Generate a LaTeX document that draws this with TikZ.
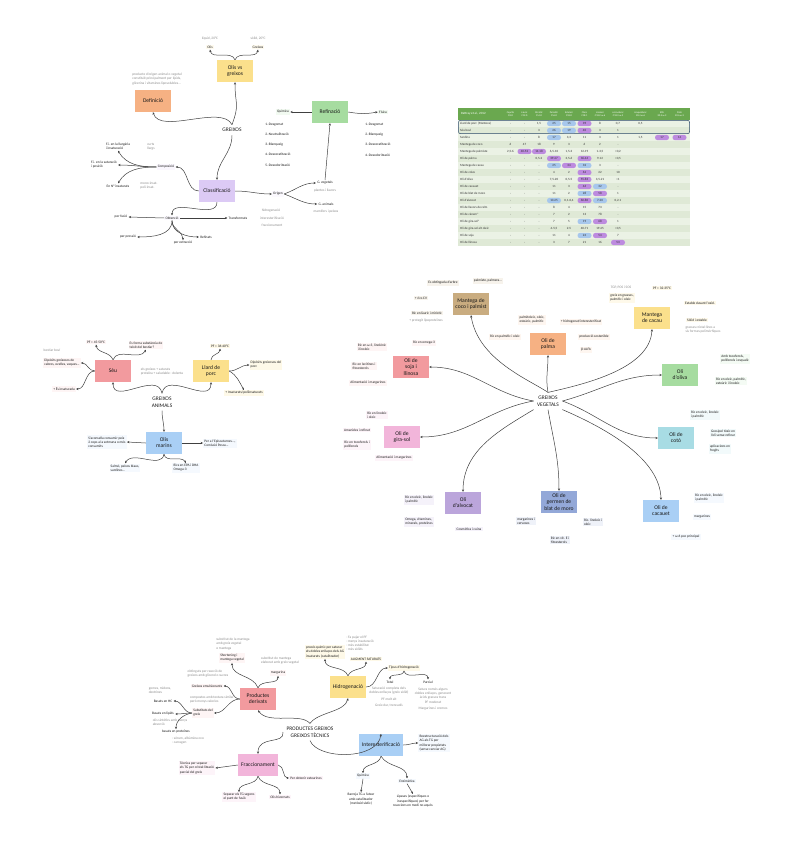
\documentclass[tikz,border=0pt]{standalone}
\usepackage{fontspec}
\setmainfont{Carlito}
\usetikzlibrary{arrows.meta}
\definecolor{yel}{HTML}{FBE08C}
\definecolor{org}{HTML}{F6B183}
\definecolor{grn}{HTML}{A6DCA0}
\definecolor{pur}{HTML}{DCCAF5}
\definecolor{red}{HTML}{F29A9E}
\definecolor{blu}{HTML}{A9CFF5}
\definecolor{tan}{HTML}{C9AC80}
\definecolor{teal}{HTML}{A8DCE4}
\definecolor{slate}{HTML}{93A8D8}
\definecolor{viol}{HTML}{BBA5DB}
\definecolor{pnk}{HTML}{F2B5DA}
\definecolor{hdr}{HTML}{6AA84F}
\definecolor{rowa}{HTML}{DFE9D6}
\definecolor{rowb}{HTML}{EBF2E5}
\definecolor{pblue}{HTML}{A7C7EC}
\definecolor{ppur}{HTML}{BD8BDF}
\definecolor{frame}{HTML}{2E4A6B}
\tikzset{
 bx/.style={rectangle, inner sep=1pt, align=center, font=\fontsize{5.6}{6.1}\selectfont, text=black!90, minimum width=36, minimum height=22},
 nt/.style={rectangle, inner sep=1.2pt, align=left, font=\fontsize{3.5}{4.1}\selectfont, text=black!90},
 gt/.style={nt, text=black!45},
 ttl/.style={align=center, font=\fontsize{5.4}{6.6}\selectfont, text=black!90},
 ar/.style={-{Stealth[length=2.4pt,width=2.2pt]}, draw=black!75, line width=0.5pt},
 tname/.style={anchor=west, inner sep=0pt, font=\fontsize{3.2}{3.6}\selectfont, text=black!80},
 tcell/.style={inner sep=0pt, font=\fontsize{3.2}{3.6}\selectfont, text=black!80},
 thead/.style={inner sep=0pt, align=center, font=\fontsize{2.5}{2.9}\selectfont, text=white},
 pl/.style={rectangle, rounded corners=2.6pt, minimum width=14, minimum height=5.4, inner sep=0pt},
}
\def\cx{{510.5,524.5,539,554,569,584.5,600,618,640.5,662,679.5}}
\newcommand\trow[3]{%
 \node[tname] at (460,{120+7*(#1-0.5)}) {#2};
 \foreach \vv [count=\i] in {#3} {\pgfmathsetmacro\xx{\cx[\i-1]}\node[tcell] at (\xx,{120+7*(#1-0.5)}) {\vv};}}
\newcommand\pill[3]{\pgfmathsetmacro\xx{\cx[#1-1]}\node[pl,fill=#3] at (\xx,{120+7*(#2-0.5)}) {};}
\begin{document}
\begin{tikzpicture}[x=1pt,y=-1pt]
\fill[white] (0,0) rectangle (798,848);
\useasboundingbox (0,0) rectangle (798,848);

%================ SECTION 1 : GREIXOS =================
\node[bx,fill=yel] (ovg) at (235,71) {Olis vs\\greixos};
\node[nt,fill=yel!15] (olis) at (210,47) {Olis};
\node[gt] at (210,39) {líquid, 20°C};
\node[nt,fill=yel!15] (grx) at (258,47) {Greixos};
\node[gt] at (258,39) {sòlid, 20°C};
\draw[ar] (ovg.north) to[out=110,in=-80] (olis.south);
\draw[ar] (ovg.north) to[out=70,in=-100] (grx.south);
\node[bx,fill=org] (def) at (153,101) {Definició};
\node[gt] at (157,79) {producte d'origen animal o vegetal\\constituït principalment per lípids,\\glicerina i vitamines liposolubles...};
\node[ttl] (greixos) at (232,130) {GREIXOS};
\draw[ar] (greixos.north) to[out=70,in=-90,looseness=1.4] (ovg.south);
\draw[ar] (greixos.north) .. controls (222,104) and (160,135) .. (def.south);
\node[bx,fill=grn] (ref) at (330,112) {Refinació};
\node[nt,fill=grn!15] (qui) at (283,112) {Química};
\node[nt,fill=grn!15] (fis) at (383,112) {Física};
\draw[ar] (ref.west) -- (qui.east);
\draw[ar] (ref.east) to[out=-10,in=190] (fis.west);
\foreach \t [count=\k] in {1.-Desgomat,2.-Neutralització,3.-Blanqueig,4.-Desceratització,5.-Desodorització}
  \node[nt,anchor=west] at (264,{114+10.2*\k}) {\t};
\foreach \t [count=\k] in {1.-Desgomat,2.-Blanqueig,3.-Desceratització,4.-Desodorització}
  \node[nt,anchor=west] at (364,{114+10.2*\k}) {\t};
\node[bx,fill=pur] (cls) at (217,191) {Classificació};
\draw[ar] (greixos.south) to[out=-90,in=90] (cls.north);
\node[nt,fill=pur!15] (comp) at (166,167) {Composició};
\draw[ar] (cls.west) to[out=180,in=0] (comp.east);
\node[nt] (c1) at (118,146) {F.i. en la llargària\\i insaturació};
\node[nt] (c2) at (104,165) {F.i. en la saturació\\i posició};
\node[nt] (c3) at (118,186) {En N° insaturats};
\node[gt] at (151,147) {curts\\llargs};
\node[gt] at (149,186) {mono-insat.\\poli-insat.};
\draw[ar] (comp.west) to[out=180,in=-60] (c1.south);
\draw[ar] (comp.west) to[out=180,in=0] (c2.east);
\draw[ar] (comp.west) to[out=180,in=60] (c3.north);
\node[nt,fill=pur!12] (orig) at (278,194) {Origen};
\draw[ar] (cls.east) to[out=0,in=180] (orig.west);
\node[nt] (gveg) at (325,183) {G. vegetals};
\node[gt] at (325,191) {plantes i llavors};
\node[nt] (gani) at (326,204) {G. animals};
\node[gt] at (326,212) {mamífers i peixos};
\draw[ar] (orig.east) to[out=20,in=180] (gveg.west);
\draw[ar] (orig.east) to[out=-20,in=180] (gani.west);
\draw[ar] (gveg.north) -- (ref.south);
\node[nt,fill=pur!12] (obt) at (172,218) {Obtenció};
\draw[ar] (cls.south) to[out=-90,in=90] (obt.north);
\node[nt] (o1) at (121,217) {per fusió};
\node[nt] (o2) at (128,237) {per pressió};
\node[nt] (o3) at (183,243) {per extracció};
\node[nt] (o4) at (206,237) {Refinats};
\node[nt] (o5) at (238,218) {Transformats};
\node[gt] at (271,211) {hidrogenació};
\node[gt] at (272,218) {interesterificació};
\node[gt] at (272,225) {fraccionament};
\draw[ar] (obt.west) -- (o1.east);
\draw[ar] (obt.south) to[out=-90,in=0] (o2.east);
\draw[ar] (obt.south) to[out=-90,in=90] (o3.north);
\draw[ar] (obt.south) to[out=-90,in=180] (o4.west);
\draw[ar] (obt.east) -- (o5.west);

%================ SECTION 2 : TABLE =================
\fill[hdr] (458,108) rectangle (690,120);
\node[anchor=west,inner sep=0pt,font=\fontsize{3.2}{3.6}\selectfont,text=white] at (461,114) {Rattray et al., 2012};
\foreach \h [count=\i] in {{Caprílic\\C8:0},{Làuric\\C12:0},{Mirístic\\C14:0},{Palmític\\C16:0},{Esteàric\\C18:0},{Oleic\\C18:1},{Linoleic\\C18:2 ω-6},{α-Linolènic\\C18:3 ω-3},{Araquidònic\\20:4 ω-6},{EPA\\20:5 ω-3},{DHA\\22:6 ω-3}}
  {\pgfmathsetmacro\xx{\cx[\i-1]}\node[thead] at (\xx,114) {\h};}
\foreach \r in {1,...,18} {
  \pgfmathsetmacro\yy{120+7*(\r-1)}
  \pgfmathparse{mod(\r,2)==0 ? 1 : 0}
  \ifnum\pgfmathresult=1 \fill[rowa] (458,\yy) rectangle (690,\yy+7); \else \fill[rowb] (458,\yy) rectangle (690,\yy+7); \fi
}
\draw[frame,line width=0.5pt,rounded corners=2pt] (458.5,120.3) rectangle (689.5,133.7);
% pills
\pill{4}{1}{pblue}\pill{5}{1}{pblue}\pill{6}{1}{ppur}
\pill{4}{2}{pblue}\pill{5}{2}{pblue}\pill{6}{2}{ppur}
\pill{4}{3}{pblue}\pill{10}{3}{ppur}\pill{11}{3}{ppur}
\pill{2}{5}{ppur}\pill{3}{5}{ppur}
\pill{4}{6}{ppur}\pill{6}{6}{ppur}
\pill{4}{7}{pblue}\pill{5}{7}{ppur}\pill{6}{7}{pblue}
\pill{6}{8}{ppur}
\pill{6}{9}{ppur}
\pill{6}{10}{ppur}\pill{7}{10}{pblue}
\pill{6}{11}{pblue}\pill{7}{11}{ppur}
\pill{4}{12}{pblue}\pill{6}{12}{ppur}\pill{7}{12}{pblue}
\pill{6}{15}{pblue}\pill{7}{15}{ppur}
\pill{6}{17}{pblue}\pill{7}{17}{ppur}
\pill{8}{18}{ppur}
\trow{1}{Llard de porc (Manteca)}{-,-,{1,5},25,15,39,8,{0,7},{0,5},{},{}}
\trow{2}{Sèu boví}{-,-,3,26,19,40,3,1,{},{},{}}
\trow{3}{Sardina}{-,-,8,17,{3,3},11,3,1,{1,5},17,14}
\trow{4}{Mantega de coco}{6,47,18,9,3,6,2,-,{},{},{}}
\trow{5}{Mantega de palmiste}{{2,5-6},40-52,14-18,{6,5-10},{1,5-3},12-19,{1-3,5},{<0,2},{},{},{}}
\trow{6}{Oli de palma}{-,-,{0,5-2},39-47,{3,5-6},36-44,9-12,{<0,5},{},{},{}}
\trow{7}{Mantega de cacau}{-,-,-,25,34,32,3,-,{},{},{}}
\trow{8}{Oli de colza}{-,-,-,4,2,62,22,10,{},{},{}}
\trow{9}{Oli d'oliva}{-,-,-,{7,5-20},{0,5-5},55-83,{3,5-21},<1,{},{},{}}
\trow{10}{Oli de cacauet}{-,-,-,11,3,46,32,-,{},{},{}}
\trow{11}{Oli de blat de moro}{-,-,-,11,2,28,58,1,{},{},{}}
\trow{12}{Oli d'alvocat}{-,-,-,10-25,{0,1-0,4},60-80,7-20,{0,2-1},{},{},{}}
\trow{13}{Oli de llavors de raïm}{-,-,-,8,4,15,73,-,{},{},{}}
\trow{14}{Oli de cànem*}{-,-,-,7,2,13,78,-,{},{},{}}
\trow{15}{Oli de gira-sol*}{-,-,-,7,5,19,68,1,{},{},{}}
\trow{16}{Oli de gira-sol alt oleic}{-,-,-,{4-5,5},2-5,40-71,19-45,{<0,5},{},{},{}}
\trow{17}{Oli de soja}{-,-,-,11,4,24,54,7,{},{},{}}
\trow{18}{Oli de llinosa}{-,-,-,3,7,21,16,53,{},{},{}}

%================ SECTION 3 : GREIXOS ANIMALS =================
\node[bx,fill=red] (seu) at (113,371) {Sèu};
\node[bx,fill=yel] (llard) at (211,371) {Llard de\\porc};
\node[bx,fill=blu] (marins) at (164,443) {Olis\\marins};
\node[ttl] (ga) at (162,402) {GREIXOS\\ANIMALS};
\node[gt] at (162,372) {els greixos + saturats\\proteïna + saludable · dolenta};
\draw[ar] (ga.north) to[out=100,in=-90,looseness=1.2] (seu.south);
\draw[ar] (ga.north) to[out=80,in=-90,looseness=1.2] (llard.south);
\draw[ar] (ga.south) to[out=-90,in=90] (marins.north);
\node[nt,fill=red!10] (s1) at (96,342) {PF = 45-50°C};
\node[nt,fill=red!10] (s2) at (146,345) {Es forma substància de\\teixit del bestiar?};
\node[gt] at (52,350) {bestiar boví};
\node[nt,fill=red!10] (s3) at (62,363) {Dipòsits greixosos de\\cabres, ovelles, vaques...};
\node[nt,fill=red!10] (s4) at (64,389) {+ És insaturada};
\draw[ar] (seu.north) to[out=110,in=-80] (s1.south);
\draw[ar] (seu.north) to[out=70,in=-120] (s2.south);
\draw[ar] (seu.west) to[out=180,in=0] (s3.east);
\draw[ar] (seu.west) to[out=180,in=0] (s4.east);
\node[nt,fill=yel!20] (l1) at (220,346) {PF = 36-40°C};
\node[nt,fill=yel!20] (l2) at (266,365) {Dipòsits greixosos del\\porc};
\node[nt,fill=yel!20] (l3) at (244,393) {+ Insaturats/poliinsaturats};
\draw[ar] (llard.north) to[out=90,in=-90] (l1.south);
\draw[ar] (llard.east) to[out=0,in=180] (l2.west);
\draw[ar] (llard.east) to[out=-30,in=120] (l3.north);
\node[nt,fill=blu!12] (m1) at (107,442) {S'aconsella consumir peix\\2 cops a la setmana o més\\consumits};
\node[nt,fill=blu!12] (m2) at (220,443) {Per a l'Episcaturnes...,\\Comissió Pesca...};
\node[nt,fill=blu!12] (m3) at (125,468) {Salmó, peixos blaus,\\sardines...};
\node[nt,fill=blu!12] (m4) at (186,468) {Rics en EPA i DHA\\Omega-3};
\draw[ar] (marins.west) -- (m1.east);
\draw[ar] (marins.east) -- (m2.west);
\draw[ar] (marins.south) to[out=-100,in=60] (m3.north);
\draw[ar] (marins.south) to[out=-80,in=120] (m4.north);

%================ SECTION 4 : GREIXOS VEGETALS =================
\node[ttl] (gv) at (548,401) {GREIXOS\\VEGETALS};
\node[bx,fill=tan] (coco) at (471,304) {Mantega de\\coco i palmist};
\node[bx,fill=org] (palma) at (548,344) {Oli de\\palma};
\node[bx,fill=yel] (cacau) at (652,318) {Mantega\\de cacau};
\node[bx,fill=grn] (oliva) at (680,375) {Oli\\d'oliva};
\node[bx,fill=teal] (coto) at (676,438) {Oli de\\cotó};
\node[bx,fill=blu] (cacauet) at (661,511) {Oli de\\cacauet};
\node[bx,fill=slate] (blat) at (559,502) {Oli de\\germen de\\blat de moro};
\node[bx,fill=viol] (alvocat) at (463,503) {Oli\\d'alvocat};
\node[bx,fill=pnk] (gira) at (402,437) {Oli de\\gira-sol};
\node[bx,fill=red] (soja) at (411,367) {Oli de\\soja i\\llinosa};
\draw[ar] (gv.north) .. controls (530,380) and (478,360) .. (coco.south);
\draw[ar] (gv.north) to[out=100,in=-90] (palma.south);
\draw[ar] (gv.north) .. controls (580,385) and (650,370) .. (cacau.south);
\draw[ar] (gv.east) to[out=15,in=180] (oliva.west);
\draw[ar] (gv.east) to[out=-20,in=180] (coto.west);
\draw[ar] (gv.south east) .. controls (610,430) and (660,460) .. (cacauet.north);
\draw[ar] (gv.south) to[out=-80,in=90] (blat.north);
\draw[ar] (gv.south west) .. controls (500,430) and (463,450) .. (alvocat.north);
\draw[ar] (gv.west) to[out=190,in=0] (gira.east);
\draw[ar] (gv.west) to[out=170,in=0] (soja.east);
% coco notes
\node[nt,fill=tan!15] at (443,283) {Es obtinguda d'arbre};
\node[nt,fill=tan!15] at (488,281) {palmiste, palmera...};
\node[nt,fill=tan!15] at (421,298) {+ rics CV};
\node[nt,fill=tan!15] at (427,313) {Ric en làuric i mirístic};
\node[gt] at (426,321) {+ protegit lipoproteïnes};
% palma notes
\node[nt,fill=org!12] at (532,320) {palmitoleic, oleic,\\esteàric, palmític};
\node[nt,fill=org!12] at (581,322) {+ hidrogenat/interesterificat};
\node[nt,fill=org!12] at (505,337) {Ric en palmític i oleic};
\node[nt,fill=org!12] at (594,337) {producció sostenible};
\node[nt,fill=org!12] at (586,350) {β-ALFA};
% cacau notes
\node[gt] at (621,288) {TGP, POS i SOS};
\node[nt,fill=yel!18] at (622,298) {greix en grasses,\\palmític i oleic};
\node[nt,fill=yel!18] at (662,288) {PF = 32-35°C};
\node[nt,fill=yel!18] at (700,303) {Estable davant l'oxid.};
\node[nt,fill=yel!18] at (697,320) {Sòlid i estable};
\node[gt] at (703,330) {grasses cristal·lines a\\sis formes polimòrfiques};
% oliva notes
\node[nt,fill=grn!12] at (735,359) {Amb tocoferols,\\polifenols i esqualè};
\node[nt,fill=grn!12] at (731,381) {Ric en oleic, palmític,\\esteàric i linoleic};
% coto notes
\node[nt,fill=teal!15] at (705,415) {Ric en oleic, linoleic\\i palmític};
\node[nt,fill=teal!15] at (723,433) {Gossipol tòxic en\\l'oli sense refinar};
\node[nt,fill=teal!15] at (720,449) {aplicacions en\\fregits};
% cacauet notes
\node[nt,fill=blu!12] at (709,498) {Ric en oleic, linoleic\\i palmític};
\node[nt,fill=blu!12] at (702,517) {margarines};
\node[nt,fill=blu!12] at (686,537) {+ ω-6 poc principal};
% blat notes
\node[nt,fill=slate!15] at (593,522) {Ric. linoleic i\\oleic};
\node[nt,fill=slate!15] at (560,540) {Ric en vit. E i\\fitoesterols};
\node[nt,fill=slate!15] at (526,521) {margarines i\\cerveses};
% alvocat notes
\node[nt,fill=viol!15] at (419,500) {Ric en oleic, linoleic\\i palmític};
\node[nt,fill=viol!15] at (419,522) {Omega, vitamines,\\minerals, proteïnes};
\node[nt,fill=viol!15] at (469,529) {Cosmètica i cuina};
% gira-sol notes
\node[nt,fill=pnk!15] at (377,415) {Ric en linoleic\\i oleic};
\node[nt,fill=pnk!15] at (357,430) {Amanides i refinat};
\node[nt,fill=pnk!15] at (357,445) {Ric en tocoferols i\\polifenols};
\node[nt,fill=pnk!15] at (394,458) {Alimentació i margarines};
% soja notes
\node[nt,fill=red!10] at (372,347) {Ric en ω-3, linolènic\\i linoleic};
\node[nt,fill=red!10] at (424,343) {Ric en omega-3};
\node[nt,fill=red!10] at (364,366) {Ric en lecitines i\\fitoesterols};
\node[nt,fill=red!10] at (368,383) {Alimentació i margarines};

%================ SECTION 5 : PRODUCTES GREIXOS =================
\node[ttl] (pg) at (310,732) {PRODUCTES GREIXOS\\GREIXOS TÈCNICS};
\node[bx,fill=red] (pd) at (258,699) {Productes\\derivats};
\node[bx,fill=yel] (hid) at (348,687) {Hidrogenació};
\node[bx,fill=pnk,minimum width=40] (frac) at (258,765) {Fraccionament};
\node[bx,fill=blu,minimum width=44] (inter) at (381,745) {Interesterificació};
\draw[ar] (pg.north) .. controls (300,712) and (268,725) .. (pd.south);
\draw[ar] (pg.north) .. controls (318,712) and (345,712) .. (hid.south);
\draw[ar] (pg.west) .. controls (285,745) and (258,735) .. (frac.north);
\draw[ar] (pg.south) .. controls (318,760) and (378,760) .. (inter.north);
% productes derivats
\node[nt,fill=red!10] (p1) at (232,658) {Shortening i\\mantega vegetal};
\node[gt] at (233,644) {substitut de la mantega\\amb greix vegetal\\o mantega};
\node[nt,fill=red!10] (p2) at (278,673) {margarina};
\node[gt] at (280,661) {substitut de mantega\\elaborat amb greix vegetal};
\node[nt,fill=red!10] (p3) at (207,686) {Greixos emulsionants};
\node[gt] at (208,674) {obtinguts per reacció de\\greixos amb glicerol o sucres};
\node[nt,fill=red!10] (p4) at (203,713) {Substituts del\\greix};
\node[gt] at (212,700) {compostos amb textura similar\\però menys calories};
\draw[ar] (pd.north) to[out=110,in=-90] (p1.south);
\draw[ar] (pd.north) to[out=70,in=-90] (p2.south);
\draw[ar] (pd.west) to[out=180,in=0] (p3.east);
\draw[ar] (pd.west) to[out=180,in=0] (p4.east);
\node[nt] (q1) at (163,701) {Basats en HC};
\node[nt] (q2) at (163,714) {Basats en lípids};
\node[nt] (q3) at (176,732) {basats en proteïnes};
\node[gt] at (160,690) {gomes, midons,\\dextrines};
\node[gt] at (170,722) {olis sintètics amb menys\\absorció};
\node[gt] at (188,741) {- sèrum, albúmina ovo\\- carragen};
\draw[ar] (p4.west) to[out=180,in=0] (q1.east);
\draw[ar] (p4.west) to[out=180,in=0] (q2.east);
\draw[ar] (p4.west) to[out=190,in=90] (q3.north);
% hidrogenacio
\node[nt,fill=yel!20] (h1) at (325,652) {procés químic per saturar\\els dobles enllaços dels AG\\insaturats (catalitzador)};
\node[nt,fill=yel!20] (h2) at (366,659) {AUGMENT SATURATS};
\node[gt] at (360,643) {- Fa pujar el PF\\- menys insaturació\\- més estabilitat\\- més sòlids};
\draw[ar] (hid.north) to[out=110,in=-90] (h1.south);
\draw[ar] (hid.north) to[out=70,in=-90] (h2.south);
\node[nt,fill=yel!20] (h3) at (404,668) {Tipus d'hidrogenació};
\draw[ar] (hid.east) to[out=0,in=180] (h3.west);
\node[nt] (ht) at (390,682) {Total};
\node[nt] (hp) at (428,682) {Parcial};
\draw[ar] (h3.south) to[out=-100,in=90] (ht.north);
\draw[ar] (h3.south) to[out=-80,in=90] (hp.north);
\node[gt,align=center] at (389,697) {Saturació completa dels\\dobles enllaços (greix sòlid)\\[2pt]PF molt alt\\[2pt]Greix dur, trencadís};
\node[gt,align=center] at (433,699) {Satura només alguns\\dobles enllaços, generant\\àcids grassos trans\\PF moderat\\[2pt]Margarines i cremes};
% interesterificacio
\node[nt,fill=blu!12] (i1) at (434,743) {Reestructuració dels\\AG als TG per\\millorar propietats\\(sense canviar AG)};
\draw[ar] (inter.east) to[out=0,in=180] (i1.west);
\node[nt,fill=blu!12] (iq) at (363,776) {Química};
\node[nt,fill=blu!12] (ie) at (407,781) {Enzimàtica};
\draw[ar] (inter.south) to[out=-100,in=90] (iq.north);
\draw[ar] (inter.south) to[out=-60,in=90] (ie.north);
\node[nt,align=center] (iq1) at (361,799) {Barreja TG a l'atzar\\amb catalitzador\\(metòxid sòdic)};
\node[nt,align=center] (ie1) at (413,801) {Lipases (específiques o\\inespecífiques) per fer\\reaccions en medi no aquós};
\draw[ar] (iq.south) -- (iq1.north);
\draw[ar] (ie.south) -- (ie1.north);
% fraccionament
\node[nt,fill=pnk!15] (f1) at (197,768) {Tècnica per separar\\els TG per cristal·lització\\parcial del greix};
\node[nt,fill=pnk!15] (f2) at (306,778) {Per obtenir estearines};
\node[nt,fill=pnk!15] (f3) at (239,797) {Separar els TG segons\\el punt de fusió};
\node[nt,fill=pnk!15] (f4) at (280,797) {Olis hivernats};
\draw[ar] (frac.west) -- (f1.east);
\draw[ar] (frac.east) to[out=-10,in=180] (f2.west);
\draw[ar] (frac.south) to[out=-100,in=90] (f3.north);
\draw[ar] (frac.south) to[out=-70,in=90] (f4.north);
\end{tikzpicture}
\end{document}
